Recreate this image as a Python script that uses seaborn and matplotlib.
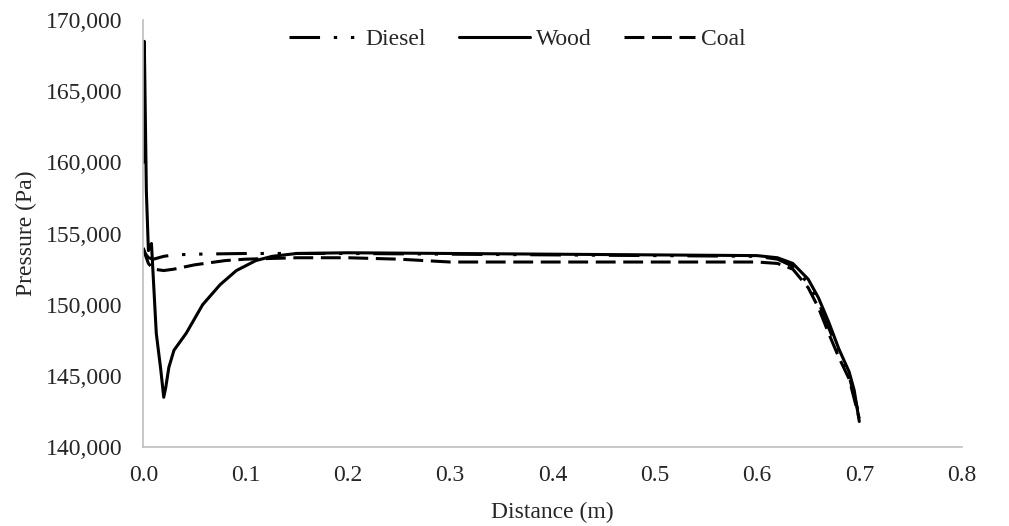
import pandas as pd
import matplotlib.pyplot as plt
import matplotlib.ticker as mticker
import seaborn as sns

# values
wood_x = [0.0, 0.001, 0.003, 0.005, 0.008, 0.0127, 0.017, 0.02, 0.022, 0.025, 0.03, 0.042, 0.058, 0.075,
          0.091, 0.11, 0.126, 0.15, 0.2, 0.3, 0.4, 0.5, 0.6, 0.62, 0.635, 0.65, 0.66, 0.67, 0.68, 0.69, 0.695, 0.7]
wood_y = [160000, 168500, 158000, 153800, 154300, 148000, 145500, 143500, 144200, 145600, 146800, 148000, 150000, 151400,
          152400, 153100, 153400, 153600, 153650, 153600, 153550, 153500, 153450, 153300, 152900, 151800, 150500, 148800, 146900, 145300, 144000, 141800]

diesel_x = [0.0, 0.002, 0.005, 0.01, 0.02, 0.03, 0.05, 0.1, 0.15, 0.2, 0.3, 0.4, 0.5, 0.6, 0.62, 0.635, 0.65, 0.66, 0.67, 0.68, 0.69, 0.7]
diesel_y = [153900, 153600, 153300, 153200, 153400, 153500, 153550, 153600, 153600, 153600, 153550, 153500, 153450, 153400, 153200, 152700, 151500, 150200, 148400, 146600, 145000, 142200]

coal_x = [0.0, 0.002, 0.005, 0.01, 0.02, 0.03, 0.05, 0.08, 0.1, 0.15, 0.2, 0.25, 0.3, 0.4, 0.5, 0.6, 0.62, 0.635, 0.65, 0.66, 0.67, 0.68, 0.69, 0.7]
coal_y = [154000, 153500, 152900, 152500, 152400, 152500, 152800, 153100, 153200, 153300, 153300, 153200, 153000, 153000, 153000, 153000, 152900, 152500, 151200, 149800, 148000, 146300, 144800, 142000]

df = pd.concat([
    pd.DataFrame({"Distance": diesel_x, "Pressure": diesel_y, "Fuel": "Diesel"}),
    pd.DataFrame({"Distance": wood_x, "Pressure": wood_y, "Fuel": "Wood"}),
    pd.DataFrame({"Distance": coal_x, "Pressure": coal_y, "Fuel": "Coal"}),
])

sns.set_style("white")
plt.rcParams["font.family"] = ["Liberation Serif", "DejaVu Serif"]

fig, ax = plt.subplots(figsize=(10.09, 5.26), dpi=100)
sns.lineplot(data=df, x="Distance", y="Pressure", hue="Fuel", style="Fuel",
             palette={"Diesel": "black", "Wood": "black", "Coal": "black"},
             dashes={"Diesel": (10, 4.5, 1.1, 4.5, 1.1, 4.5), "Wood": "", "Coal": (6.5, 2.5)},
             linewidth=2.2, sort=False, estimator=None, ax=ax)

ax.set_xlim(0, 0.8)
ax.set_ylim(140000, 170000)
ax.set_xticks([i / 10 for i in range(9)])
ax.set_yticks(range(140000, 170001, 5000))
ax.xaxis.set_major_formatter(mticker.FormatStrFormatter("%.1f"))
ax.yaxis.set_major_formatter(mticker.StrMethodFormatter("{x:,.0f}"))
ax.tick_params(labelsize=17, length=0)
ax.tick_params(axis="y", pad=15)
ax.tick_params(axis="x", pad=13)
ax.set_xlabel("Distance (m)", fontsize=17, labelpad=11)
ax.set_ylabel("Pressure (Pa)", fontsize=17, labelpad=6)
for side in ["top", "right"]:
    ax.spines[side].set_visible(False)
for side in ["left", "bottom"]:
    ax.spines[side].set_color("#bfbfbf")
    ax.spines[side].set_linewidth(1.2)

leg = ax.legend(loc="upper center", ncol=3, frameon=False, fontsize=17, title=None,
                handlelength=3, handletextpad=0.25, columnspacing=1.4,
                bbox_to_anchor=(0.457, 1.03))
for line in leg.get_lines():
    line.set_linewidth(2.2)

fig.subplots_adjust(left=0.142, right=0.953, top=0.962, bottom=0.15)
fig.savefig("out.png", dpi=100)
